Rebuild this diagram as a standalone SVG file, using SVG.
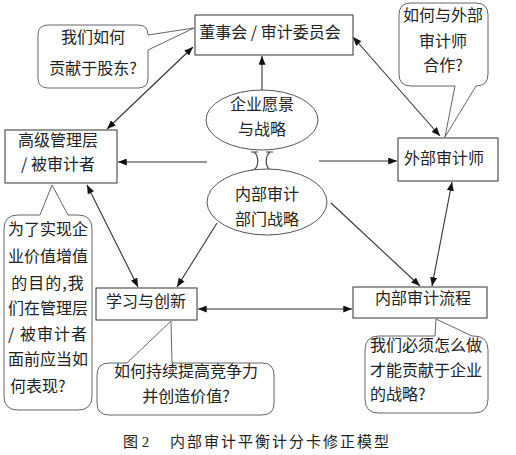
<svg xmlns="http://www.w3.org/2000/svg" width="516" height="455" viewBox="0 0 516 455">
<style>
.box{fill:#fff;stroke:#444;stroke-width:1.1}
.bub{fill:#fff;stroke:#666;stroke-width:1}
.ell{fill:#fff;stroke:#555;stroke-width:1}
.t{font-family:"Noto Sans CJK SC","Liberation Sans",sans-serif;font-size:16px;fill:#222;text-anchor:middle;dominant-baseline:central}
.tl{text-anchor:start}
.c{stroke:#333;stroke-width:1.1;fill:none}
.cap{font-family:"Liberation Serif","Noto Sans CJK SC",serif;font-size:15px;fill:#222;dominant-baseline:central}
</style>
<defs>
<marker id="ah" viewBox="0 0 10 8" refX="10" refY="4" markerWidth="9" markerHeight="7" markerUnits="userSpaceOnUse" orient="auto-start-reverse">
<path d="M0,0 L10,4 L0,8 z" fill="#111"/>
</marker>
</defs>
<rect width="516" height="455" fill="#fff"/>

<g id="connectors">
<line class="c" x1="193" y1="47" x2="107" y2="129" marker-start="url(#ah)" marker-end="url(#ah)"/>
<line class="c" x1="353" y1="37" x2="440" y2="136" marker-start="url(#ah)" marker-end="url(#ah)"/>
<line class="c" x1="262" y1="90" x2="262" y2="56" marker-end="url(#ah)"/>
<line class="c" x1="207" y1="162" x2="118" y2="162" marker-end="url(#ah)"/>
<line class="c" x1="319" y1="161" x2="397" y2="161" marker-end="url(#ah)"/>
<line class="c" x1="87" y1="185" x2="138" y2="287" marker-start="url(#ah)" marker-end="url(#ah)"/>
<line class="c" x1="217" y1="223" x2="177" y2="287" marker-end="url(#ah)"/>
<line class="c" x1="331" y1="203" x2="420" y2="286" marker-end="url(#ah)"/>
<line class="c" x1="452" y1="182" x2="432" y2="286" marker-start="url(#ah)" marker-end="url(#ah)"/>
<line class="c" x1="198" y1="309" x2="352" y2="309" marker-start="url(#ah)" marker-end="url(#ah)"/>
</g>

<g id="board">
<rect class="box" x="195" y="15" width="158" height="40"/>
<text class="t" x="270" y="31">董事会 / 审计委员会</text>
</g>

<g id="bubble-shareholders">
<path class="bub" d="M48,25 H138 Q148,25 148,35 L194,28 L148,50 V78 Q148,88 138,88 H48 Q38,88 38,78 V35 Q38,25 48,25 Z"/>
<text class="t" x="93" y="36">我们如何</text>
<text class="t" x="93" y="67">贡献于股东?</text>
</g>

<g id="bubble-external">
<path class="bub" d="M411,3 H476 Q488,3 488,15 V74 Q488,86 476,86 L445,137 L455,86 H411 Q399,86 399,74 V15 Q399,3 411,3 Z"/>
<text class="t" x="443" y="14">如何与外部</text>
<text class="t" x="443" y="40">审计师</text>
<text class="t" x="443" y="64">合作?</text>
</g>

<g id="vision">
<ellipse class="ell" cx="262" cy="120" rx="56" ry="30"/>
<text class="t" x="262" y="103">企业愿景</text>
<text class="t" x="262" y="128">与战略</text>
</g>

<g id="link-symbol">
<path d="M251,152 H258 M251,170 H258 M266,152 H273 M266,170 H273" stroke="#444" stroke-width="1" fill="none"/>
<path d="M254,152 C259,156 259,166 254,170 M270,152 C265,156 265,166 270,170" stroke="#444" stroke-width="1.2" fill="none"/>
</g>

<g id="ia-strategy">
<ellipse class="ell" cx="267" cy="202" rx="60" ry="33"/>
<text class="t" x="267" y="193">内部审计</text>
<text class="t" x="267" y="218">部门战略</text>
</g>

<g id="management">
<rect class="box" x="5" y="130" width="112" height="53"/>
<text class="t" x="58" y="139">高级管理层</text>
<text class="t" x="58" y="163">/ 被审计者</text>
</g>

<g id="external-auditor">
<rect class="box" x="398" y="138" width="100" height="43"/>
<text class="t tl" x="404" y="157">外部审计师</text>
</g>

<g id="bubble-management">
<path class="bub" d="M18,215 H40 L52,185 L68,215 H78 Q92,215 92,229 V396 Q92,410 78,410 H18 Q4,410 4,396 V229 Q4,215 18,215 Z"/>
<text class="t" x="48" y="228">为了实现企</text>
<text class="t" x="48" y="255">业价值增值</text>
<text class="t" x="48" y="282" letter-spacing="1">的目的,我</text>
<text class="t" x="48" y="307">们在管理层</text>
<text class="t" x="48" y="333" letter-spacing="1">/ 被审计者</text>
<text class="t" x="48" y="358">面前应当如</text>
<text class="t tl" x="10" y="385">何表现?</text>
</g>

<g id="learning">
<rect class="box" x="96" y="288" width="101" height="32"/>
<text class="t" x="146" y="300">学习与创新</text>
</g>

<g id="ia-process">
<rect class="box" x="353" y="287" width="134" height="31"/>
<text class="t" x="423" y="297">内部审计流程</text>
</g>

<g id="bubble-learning">
<path class="bub" d="M109,363 H127 L171,321 L172,363 H262 Q274,363 274,375 V403 Q274,415 262,415 H109 Q97,415 97,403 V375 Q97,363 109,363 Z"/>
<text class="t" x="186" y="370">如何持续提高竞争力</text>
<text class="t" x="186" y="395">并创造价值?</text>
</g>

<g id="bubble-process">
<path class="bub" d="M379,336 H435 L436,319 L472,336 H474 Q488,336 488,350 V399 Q488,413 474,413 H379 Q365,413 365,399 V350 Q365,336 379,336 Z"/>
<text class="t tl" x="370" y="344">我们必须怎么做</text>
<text class="t tl" x="370" y="369" fill="#3a2024">才能贡献于企业</text>
<text class="t tl" x="370" y="393" fill="#6a1a2a">的战略?</text>
</g>

<g id="caption">
<text class="cap" x="123" y="442">图 2</text>
<text class="cap" x="170" y="442" letter-spacing="2">内部审计平衡计分卡修正模型</text>
</g>
</svg>
